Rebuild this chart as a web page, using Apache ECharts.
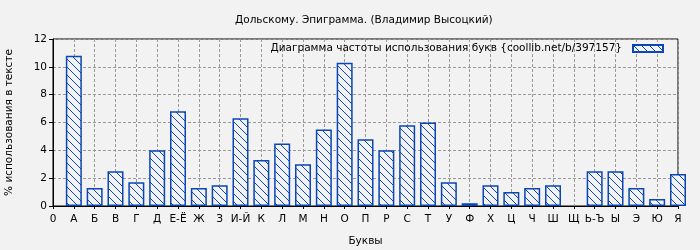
<!DOCTYPE html>
<html><head><meta charset="utf-8">
<script src="https://cdn.jsdelivr.net/npm/echarts@6/dist/echarts.min.js"></script>
<style>html,body{margin:0;padding:0;background:#f2f2f2;}#c{width:700px;height:250px;}</style>
</head><body><div id="c"></div>
<script>
const titleText = 'Дольскому. Эпиграмма. (Владимир Высоцкий)';
const seriesName = 'Диаграмма частоты использования букв {coollib.net/b/397157}';
const xAxisName = 'Буквы';
const yAxisName = '% использования в тексте';
const tickLabels = ['0','А','Б','В','Г','Д','Е-Ё','Ж','З','И-Й','К','Л','М','Н','О','П','Р','С','Т','У','Ф','Х','Ц','Ч','Ш','Щ','Ь-Ъ','Ы','Э','Ю','Я'];
const letters = ['А','Б','В','Г','Д','Е-Ё','Ж','З','И-Й','К','Л','М','Н','О','П','Р','С','Т','У','Ф','Х','Ц','Ч','Ш','Щ','Ь-Ъ','Ы','Э','Ю','Я'];
const values = [10.8,1.3,2.5,1.7,4.0,6.8,1.3,1.5,6.3,3.3,4.5,3.0,5.5,10.3,4.8,4.0,5.8,6.0,1.7,0.2,1.5,1.0,1.3,1.5,0,2.5,2.5,1.3,0.5,2.3];

const blue = '#0a47b5';
function hatch(){
  const s = 8;
  const c = document.createElement('canvas');
  c.width = s; c.height = s;
  const g = c.getContext('2d');
  g.fillStyle = '#f2f2f2';
  g.fillRect(0,0,s,s);
  g.strokeStyle = blue;
  g.lineWidth = 1;
  g.beginPath();
  g.moveTo(-1,-1); g.lineTo(s+1,s+1);
  g.moveTo(-1,s-1); g.lineTo(1,s+1);
  g.moveTo(s-1,-1); g.lineTo(s+1,1);
  g.stroke();
  return c;
}
const pattern = {image: hatch(), repeat: 'repeat'};
const font = 'DejaVu Sans';
const fs = 10.5;
const chart = echarts.init(document.getElementById('c'), null, {renderer:'canvas'});
chart.setOption({
  backgroundColor: '#f2f2f2',
  animation: false,
  textStyle: {fontFamily: font},
  title: {text: titleText, left: 230, top: 10,
    textStyle: {fontFamily: font, fontSize: fs, fontWeight: 'normal', color: '#000'}},
  legend: {show: true, top: 38, right: 31, align: 'right', itemWidth: 30, itemHeight: 7, itemGap: 10,
    textStyle: {fontFamily: font, fontSize: fs, color: '#000', padding: [0, 6, 0, 0]},
    data: [{name: seriesName, icon: 'rect'}]},
  grid: {left: 53, right: 22, top: 39, bottom: 44, show: true, borderColor: '#000', borderWidth: 1,
    backgroundColor: '#f2f2f2', containLabel: false, outerBoundsMode: 'none'},
  xAxis: {type: 'value', min: 0, max: 30, interval: 1,
    name: xAxisName, nameLocation: 'middle', nameGap: 30,
    nameTextStyle: {fontFamily: font, fontSize: fs, color: '#000'},
    axisLine: {show: true, lineStyle: {color: '#000', width: 1}},
    axisTick: {show: true, length: 3, lineStyle: {color: '#000'}},
    axisLabel: {fontFamily: font, fontSize: fs, color: '#000', margin: 8,
      formatter: v => tickLabels[Math.round(v)] !== undefined && Math.abs(v - Math.round(v)) < 1e-6 ? tickLabels[Math.round(v)] : ''},
    splitLine: {show: true, lineStyle: {color: '#999', type: [3,2], width: 1}}},
  yAxis: {type: 'value', min: 0, max: 12, interval: 2,
    name: yAxisName, nameLocation: 'middle', nameGap: 38,
    nameTextStyle: {fontFamily: font, fontSize: fs, color: '#000'},
    axisLine: {show: true, lineStyle: {color: '#000', width: 1}},
    axisTick: {show: true, length: 4, lineStyle: {color: '#000'}},
    axisLabel: {fontFamily: font, fontSize: fs, color: '#000', margin: 6},
    splitLine: {show: true, lineStyle: {color: '#999', type: [3,2], width: 1}}},
  series: [{
    name: seriesName, type: 'bar', barWidth: 16, clip: true,
    data: letters.map((l,i) => values[i] === 0
      ? {value: [i+1, values[i]], itemStyle: {borderWidth: 0}}
      : {value: [i+1, values[i]]}),
    itemStyle: {color: pattern, borderColor: blue, borderWidth: 1.5}
  }]
});
</script></body></html>
